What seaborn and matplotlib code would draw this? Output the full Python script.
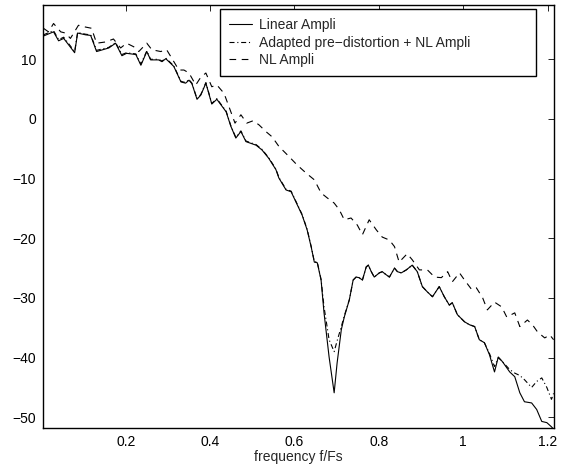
import numpy as np
import pandas as pd
import matplotlib
matplotlib.use("Agg")
import matplotlib.pyplot as plt
import seaborn as sns

# Linear amplifier spectrum (solid)
freq_lin = [0.005, 0.029, 0.041, 0.053, 0.065, 0.079, 0.086, 0.105, 0.117, 0.131,
            0.160, 0.176, 0.191, 0.202, 0.224, 0.236, 0.250, 0.259, 0.278, 0.286,
            0.295, 0.314, 0.331, 0.342, 0.350, 0.357, 0.369, 0.378, 0.390, 0.404,
            0.416, 0.438, 0.449, 0.461, 0.473, 0.485, 0.509, 0.523, 0.539, 0.556,
            0.563, 0.580, 0.592, 0.604, 0.618, 0.630, 0.640, 0.647, 0.654, 0.663,
            0.670, 0.682, 0.694, 0.701, 0.711, 0.718, 0.730, 0.739, 0.746, 0.753,
            0.761, 0.770, 0.775, 0.782, 0.789, 0.801, 0.808, 0.817, 0.825, 0.837,
            0.844, 0.853, 0.865, 0.879, 0.891, 0.903, 0.915, 0.927, 0.943, 0.955,
            0.967, 0.974, 0.986, 1.003, 1.015, 1.027, 1.038, 1.050, 1.062, 1.074,
            1.083, 1.093, 1.110, 1.122, 1.134, 1.145, 1.162, 1.174, 1.186, 1.198,
            1.209, 1.214]
lin_db = [13.9, 14.6, 13.1, 13.5, 12.4, 11.1, 14.4, 14.1, 14.0, 11.3,
          11.9, 12.7, 10.6, 11.0, 10.8, 9.0, 11.3, 9.9, 9.9, 9.6,
          10.1, 8.8, 6.2, 6.0, 6.5, 5.9, 3.3, 4.0, 6.0, 2.5,
          3.3, 1.2, -1.2, -3.2, -2.1, -3.8, -4.4, -5.2, -6.6, -8.5,
          -9.9, -11.9, -12.2, -14.0, -16.1, -18.6, -21.6, -24.0, -24.1, -27.0,
          -32.5, -39.9, -45.9, -40.9, -35.3, -33.2, -30.3, -27.0, -26.5, -26.6,
          -27.0, -24.8, -24.5, -25.6, -26.5, -25.8, -25.6, -26.1, -26.5, -25.0,
          -25.6, -25.8, -25.3, -24.5, -25.6, -28.1, -29.0, -29.8, -28.1, -29.8,
          -31.2, -30.8, -32.8, -34.0, -34.5, -34.8, -37.0, -37.5, -39.5, -42.4,
          -39.9, -40.7, -42.4, -43.2, -45.9, -47.4, -47.6, -48.7, -50.7, -50.9,
          -51.6, -52.0]

# Adapted pre-distortion + NL amplifier (dash-dot), same frequency grid
pd_db = [14.1, 14.8, 13.3, 13.7, 12.6, 11.3, 14.5, 14.2, 14.1, 11.5,
         12.0, 12.8, 10.8, 11.1, 10.9, 9.2, 11.4, 10.0, 10.0, 9.7,
         10.2, 8.9, 6.3, 6.1, 6.6, 6.0, 3.4, 4.1, 6.1, 2.6,
         3.4, 1.3, -1.1, -3.1, -2.0, -3.7, -4.3, -5.1, -6.5, -8.4,
         -9.8, -11.8, -12.1, -13.9, -16.0, -18.5, -21.5, -23.9, -24.0, -26.9,
         -31.5, -37.0, -39.0, -37.2, -34.8, -33.0, -30.3, -27.0, -26.5, -26.6,
         -27.0, -24.8, -24.5, -25.6, -26.5, -25.8, -25.6, -26.1, -26.5, -25.0,
         -25.6, -25.8, -25.3, -24.5, -25.6, -28.1, -29.0, -29.8, -28.1, -29.8,
         -31.2, -30.8, -32.8, -34.0, -34.5, -34.8, -37.0, -37.5, -39.3, -41.5,
         -40.0, -40.7, -42.0, -42.6, -43.0, -43.7, -45.0, -44.0, -43.4, -45.0,
         -47.0, -46.0]

# NL amplifier alone (dashed)
freq_nl = [0.005, 0.017, 0.029, 0.046, 0.057, 0.069, 0.088, 0.105, 0.119, 0.131,
           0.152, 0.171, 0.188, 0.202, 0.219, 0.231, 0.250, 0.262, 0.283, 0.297,
           0.309, 0.326, 0.338, 0.350, 0.366, 0.378, 0.390, 0.404, 0.416, 0.433,
           0.445, 0.459, 0.473, 0.487, 0.502, 0.516, 0.532, 0.547, 0.563, 0.587,
           0.606, 0.628, 0.647, 0.663, 0.677, 0.694, 0.706, 0.718, 0.734, 0.749,
           0.761, 0.777, 0.794, 0.808, 0.825, 0.837, 0.848, 0.867, 0.879, 0.896,
           0.915, 0.932, 0.948, 0.963, 0.974, 0.991, 1.003, 1.020, 1.031, 1.046,
           1.057, 1.074, 1.091, 1.103, 1.122, 1.134, 1.152, 1.164, 1.176, 1.193,
           1.205, 1.214]
nl_db = [15.2, 14.6, 16.0, 14.6, 14.4, 13.5, 15.7, 15.4, 15.2, 12.7,
         12.9, 13.4, 11.9, 12.7, 12.1, 11.3, 12.7, 11.6, 11.3, 11.6,
         10.2, 8.2, 8.2, 7.7, 5.7, 7.0, 7.7, 5.4, 5.7, 4.3,
         2.0, -0.7, 0.7, -0.7, -0.3, -1.0, -2.1, -3.0, -4.6, -6.3,
         -7.7, -9.1, -10.2, -12.4, -13.2, -14.1, -15.2, -16.9, -16.6, -17.8,
         -19.4, -16.9, -18.6, -19.8, -20.3, -21.4, -24.0, -22.6, -23.6, -25.3,
         -25.3, -26.5, -26.6, -25.6, -27.3, -25.8, -27.0, -28.6, -28.3, -30.0,
         -32.0, -30.7, -31.5, -33.2, -32.5, -34.8, -33.7, -34.5, -35.7, -36.7,
         -36.2, -37.0]

x_ticks = [0.2, 0.4, 0.6, 0.8, 1.0, 1.2]
x_ticklabels = ["0.2", "0.4", "0.6", "0.8", "1", "1.2"]
y_ticks = [-50, -40, -30, -20, -10, 0, 10]

sns.set_style("white")
plt.rcParams['font.family'] = ['Liberation Sans', 'DejaVu Sans']

fig = plt.figure(figsize=(5.65, 4.66), dpi=100)
ax = fig.add_axes([43 / 565, 1 - 428 / 466, 511 / 565, 423 / 466])

sns.lineplot(x=freq_lin, y=lin_db, ax=ax, color="k", lw=0.8, sort=False,
             estimator=None, label="Linear Ampli")
sns.lineplot(x=freq_lin, y=pd_db, ax=ax, color="k", lw=0.8, sort=False,
             estimator=None, ls=(0, (4.5, 2.5, 1, 2.5)),
             label="Adapted pre\u2212distortion + NL Ampli")
sns.lineplot(x=freq_nl, y=nl_db, ax=ax, color="k", lw=0.8, sort=False,
             estimator=None, ls=(0, (6, 5)), label="NL Ampli")

ax.set_xlim(0.004, 1.215)
ax.set_ylim(-51.8, 19.1)
ax.set_xticks(x_ticks)
ax.set_xticklabels(x_ticklabels)
ax.set_yticks(y_ticks)
ax.set_xlabel("frequency f/Fs", fontsize=10, labelpad=1)
ax.tick_params(direction="in", length=4, width=0.6, top=True, right=True,
               labelsize=10, colors="k", pad=5)
for sp in ax.spines.values():
    sp.set_color("k")
    sp.set_linewidth(1.0)

leg = ax.legend(loc="upper left", bbox_to_anchor=(0.3464, 0.832, 0.6184, 0.1585),
                mode="expand", borderaxespad=0, fontsize=10, handlelength=1.65,
                handletextpad=0.5, labelspacing=0.25, borderpad=0.65,
                fancybox=False, framealpha=1)
leg.get_frame().set_edgecolor("k")
leg.get_frame().set_linewidth(1.0)

fig.savefig("out.png", dpi=100)
